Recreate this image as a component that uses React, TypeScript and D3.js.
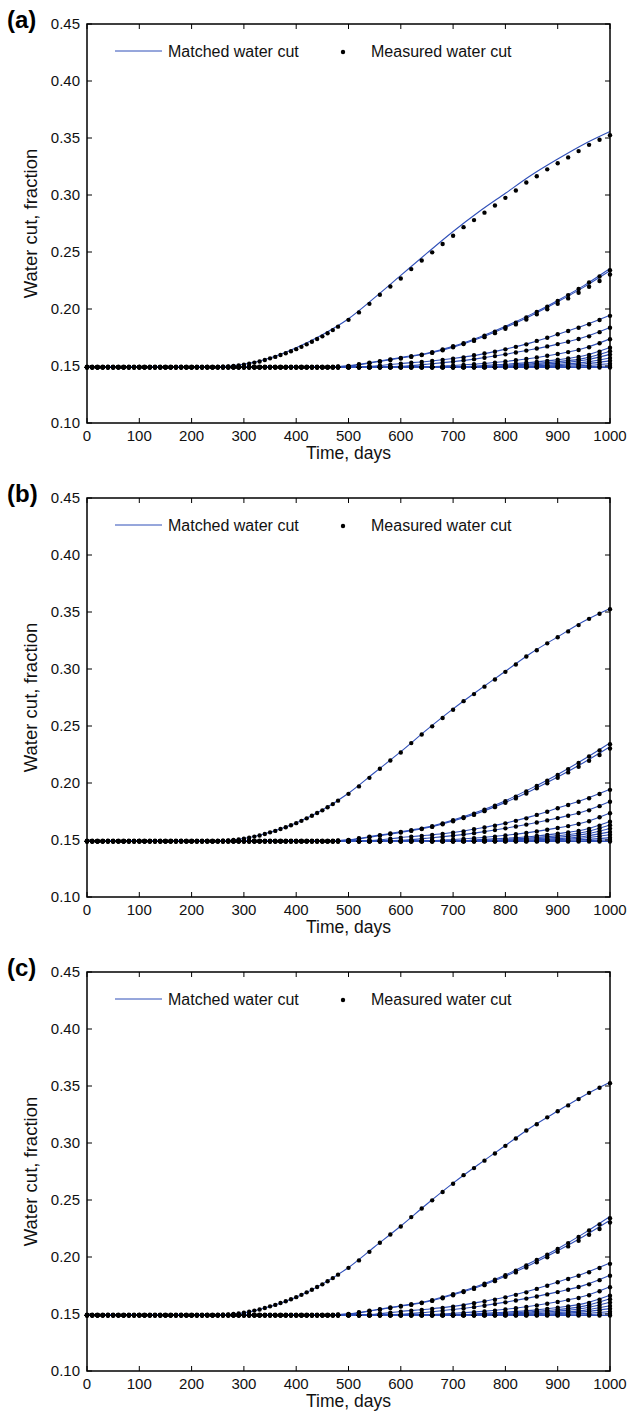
import * as d3 from 'd3';

// measurement times (days): every 10 days up to 480, then every 20 days
const measuredDays = [
  0, 10, 20, 30, 40, 50, 60, 70, 80, 90,
  100, 110, 120, 130, 140, 150, 160, 170, 180, 190,
  200, 210, 220, 230, 240, 250, 260, 270, 280, 290,
  300, 310, 320, 330, 340, 350, 360, 370, 380, 390,
  400, 410, 420, 430, 440, 450, 460, 470, 480,
  500, 520, 540, 560, 580, 600, 620, 640, 660, 680,
  700, 720, 740, 760, 780, 800, 820, 840, 860, 880,
  900, 920, 940, 960, 980, 1000,
];

// measured water cut for each well (same observed data in all three panels)
const measuredWell1 = [
  .149, .149, .1488, .149, .1491, .149, .149, .1489, .149, .149,
  .1491, .149, .149, .149, .1489, .149, .149, .149, .1491, .149,
  .149, .149, .149, .1492, .149, .1491, .1493, .1495, .150, .1505,
  .1512, .152, .153, .154, .1553, .1567, .158, .1596, .1612, .163,
  .1648, .1668, .169, .1713, .1737, .176, .1787, .1815, .1845,
  .1905, .197, .2045, .2125, .2198, .2268, .235, .2425, .2497, .257,
  .2643, .2718, .278, .2845, .2908, .2975, .304, .311, .3165, .3225,
  .3278, .333, .3385, .344, .3485, .3525,
];
const measuredWell2 = [
  .149, .149, .149, .149, .149, .149, .149, .149, .149, .149,
  .149, .149, .149, .149, .149, .149, .149, .149, .149, .149,
  .149, .149, .149, .149, .149, .149, .149, .149, .149, .149,
  .149, .149, .149, .149, .149, .149, .149, .149, .149, .149,
  .149, .149, .149, .149, .149, .149, .149, .149, .1495,
  .150, .1515, .1528, .1542, .1557, .157, .1585, .160, .162, .1645,
  .1673, .170, .173, .1765, .180, .184, .188, .1925, .1975, .202,
  .207, .2122, .2175, .2232, .2285, .234,
];
const measuredWell3 = [
  .149, .149, .149, .149, .149, .149, .149, .149, .149, .149,
  .149, .149, .149, .149, .149, .149, .149, .149, .149, .149,
  .149, .149, .149, .149, .149, .149, .149, .149, .149, .149,
  .149, .149, .149, .149, .149, .149, .149, .149, .149, .149,
  .149, .149, .149, .149, .149, .149, .149, .149, .149,
  .1498, .1512, .1525, .1538, .1553, .1566, .158, .1596, .1615, .1638,
  .1665, .1692, .172, .1753, .1788, .1826, .1865, .1907, .1953, .1998,
  .2045, .2093, .2142, .2195, .2245, .2302,
];
const measuredWell4 = [
  .149, .149, .149, .149, .149, .149, .149, .149, .149, .149,
  .149, .149, .149, .149, .149, .149, .149, .149, .149, .149,
  .149, .149, .149, .149, .149, .149, .149, .149, .149, .149,
  .149, .149, .149, .149, .149, .149, .149, .149, .149, .149,
  .149, .149, .149, .149, .149, .149, .149, .149, .149,
  .149, .149, .149, .1505, .1512, .152, .1528, .1535, .1544, .1553,
  .1564, .1575, .1594, .161, .1625, .1646, .1668, .169, .172, .1748,
  .1778, .1807, .1836, .1866, .1903, .194,
];
const measuredWell5 = [
  .149, .149, .149, .149, .149, .149, .149, .149, .149, .149,
  .149, .149, .149, .149, .149, .149, .149, .149, .149, .149,
  .149, .149, .149, .149, .149, .149, .149, .149, .149, .149,
  .149, .149, .149, .149, .149, .149, .149, .149, .149, .149,
  .149, .149, .149, .149, .149, .149, .149, .149, .149,
  .149, .149, .149, .149, .149, .1497, .1503, .151, .1518, .1527,
  .1537, .1548, .156, .1573, .1587, .1602, .1618, .1635, .1653, .1672,
  .1692, .1713, .1737, .176, .1797, .1836,
];
const measuredWell6 = [
  .149, .149, .149, .149, .149, .149, .149, .149, .149, .149,
  .149, .149, .149, .149, .149, .149, .149, .149, .149, .149,
  .149, .149, .149, .149, .149, .149, .149, .149, .149, .149,
  .149, .149, .149, .149, .149, .149, .149, .149, .149, .149,
  .149, .149, .149, .149, .149, .149, .149, .149, .149,
  .149, .149, .149, .149, .149, .149, .149, .149, .1495, .150,
  .1505, .151, .1516, .1523, .153, .154, .155, .1562, .1575, .159,
  .1605, .1622, .164, .1665, .170, .1735,
];
const measuredWell7 = [
  .149, .149, .149, .149, .149, .149, .149, .149, .149, .149,
  .149, .149, .149, .149, .149, .149, .149, .149, .149, .149,
  .149, .149, .149, .149, .149, .149, .149, .149, .149, .149,
  .149, .149, .149, .149, .149, .149, .149, .149, .149, .149,
  .149, .149, .149, .149, .149, .149, .149, .149, .149,
  .149, .149, .149, .149, .149, .149, .149, .149, .149, .149,
  .149, .1495, .150, .1505, .151, .1515, .152, .1528, .1535, .1545,
  .1555, .1567, .158, .1598, .1625, .166,
];
const measuredWell8 = [
  .149, .149, .149, .149, .149, .149, .149, .149, .149, .149,
  .149, .149, .149, .149, .149, .149, .149, .149, .149, .149,
  .149, .149, .149, .149, .149, .149, .149, .149, .149, .149,
  .149, .149, .149, .149, .149, .149, .149, .149, .149, .149,
  .149, .149, .149, .149, .149, .149, .149, .149, .149,
  .149, .149, .149, .149, .149, .149, .149, .149, .149, .149,
  .149, .149, .1493, .1497, .150, .1505, .151, .1516, .1523, .153,
  .1538, .1548, .156, .1576, .160, .163,
];
const measuredWell9 = [
  .149, .149, .149, .149, .149, .149, .149, .149, .149, .149,
  .149, .149, .149, .149, .149, .149, .149, .149, .149, .149,
  .149, .149, .149, .149, .149, .149, .149, .149, .149, .149,
  .149, .149, .149, .149, .149, .149, .149, .149, .149, .149,
  .149, .149, .149, .149, .149, .149, .149, .149, .149,
  .149, .149, .149, .149, .149, .149, .149, .149, .149, .149,
  .149, .149, .149, .1492, .1495, .1498, .1502, .1507, .1512, .1518,
  .1525, .1533, .1543, .1556, .1575, .160,
];
const measuredWell10 = [
  .149, .149, .149, .149, .149, .149, .149, .149, .149, .149,
  .149, .149, .149, .149, .149, .149, .149, .149, .149, .149,
  .149, .149, .149, .149, .149, .149, .149, .149, .149, .149,
  .149, .149, .149, .149, .149, .149, .149, .149, .149, .149,
  .149, .149, .149, .149, .149, .149, .149, .149, .149,
  .149, .149, .149, .149, .149, .149, .149, .149, .149, .149,
  .149, .149, .149, .149, .149, .1492, .1495, .1498, .1502, .1507,
  .1512, .1518, .1526, .1537, .1552, .157,
];
const measuredWell11 = [
  .149, .149, .149, .149, .149, .149, .149, .149, .149, .149,
  .149, .149, .149, .149, .149, .149, .149, .149, .149, .149,
  .149, .149, .149, .149, .149, .149, .149, .149, .149, .149,
  .149, .149, .149, .149, .149, .149, .149, .149, .149, .149,
  .149, .149, .149, .149, .149, .149, .149, .149, .149,
  .149, .149, .149, .149, .149, .149, .149, .149, .149, .149,
  .149, .149, .149, .149, .149, .149, .1491, .1493, .1496, .1499,
  .1503, .1508, .1514, .1522, .1532, .1545,
];
const measuredWell12 = [
  .149, .149, .149, .149, .149, .149, .149, .149, .149, .149,
  .149, .149, .149, .149, .149, .149, .149, .149, .149, .149,
  .149, .149, .149, .149, .149, .149, .149, .149, .149, .149,
  .149, .149, .149, .149, .149, .149, .149, .149, .149, .149,
  .149, .149, .149, .149, .149, .149, .149, .149, .149,
  .149, .149, .149, .149, .149, .149, .149, .149, .149, .149,
  .149, .149, .149, .149, .149, .149, .149, .149, .1491, .1493,
  .1495, .1498, .1502, .1506, .1512, .152,
];
const measuredWell13 = [
  .1486, .1486, .1486, .1486, .1486, .1486, .1486, .1486, .1486, .1486,
  .1486, .1486, .1486, .1486, .1486, .1486, .1486, .1486, .1486, .1486,
  .1486, .1486, .1486, .1486, .1486, .1486, .1486, .1486, .1486, .1486,
  .1486, .1486, .1486, .1486, .1486, .1486, .1486, .1486, .1486, .1486,
  .1486, .1486, .1486, .1486, .1486, .1486, .1486, .1486, .1486,
  .149, .149, .149, .149, .149, .149, .149, .149, .149, .149,
  .149, .149, .149, .149, .149, .149, .149, .149, .149, .149,
  .149, .1491, .1493, .1495, .1497, .150,
];
const measuredWell14 = [
  .1494, .1494, .1494, .1494, .1494, .1494, .1494, .1494, .1494, .1494,
  .1494, .1494, .1494, .1494, .1494, .1494, .1494, .1494, .1494, .1494,
  .1494, .1494, .1494, .1494, .1494, .1494, .1494, .1494, .1494, .1494,
  .1494, .1494, .1494, .1494, .1494, .1494, .1494, .1494, .1494, .1494,
  .1494, .1494, .1494, .1494, .1494, .1494, .1494, .1494, .1494,
  .1486, .1486, .1486, .1486, .1486, .1486, .1486, .1486, .1486, .1486,
  .1486, .1486, .1486, .1486, .1486, .1486, .1486, .1486, .1486, .1486,
  .1486, .1486, .1486, .1486, .1486, .1486,
];

const measuredWells = [
  measuredWell1, measuredWell2, measuredWell3, measuredWell4, measuredWell5,
  measuredWell6, measuredWell7, measuredWell8, measuredWell9, measuredWell10,
  measuredWell11, measuredWell12, measuredWell13, measuredWell14,
];

// matched (simulated) water cut, every 50 days
const matchedDays = [
  0, 50, 100, 150, 200, 250, 300, 350, 400, 450,
  500, 550, 600, 650, 700, 750, 800, 850, 900, 950, 1000,
];

// panel (a)
const matchedA = [
  [.149, .149, .149, .149, .149, .1492, .1515, .157, .166, .1775, .1915, .210, .2295, .249, .268, .2855, .3015, .3175, .3315, .3445, .3556],
  [.149, .149, .149, .149, .149, .149, .149, .149, .149, .149, .1502, .1537, .1575, .1612, .1672, .1752, .1848, .1955, .2075, .2205, .2355],
  [.149, .149, .149, .149, .149, .149, .149, .149, .149, .149, .150, .1533, .157, .1607, .1665, .1743, .1838, .1944, .2063, .2192, .2335],
  [.149, .149, .149, .149, .149, .149, .149, .149, .149, .149, .149, .150, .1522, .154, .1566, .160, .1648, .1705, .1778, .1855, .1945],
  [.149, .149, .149, .149, .149, .149, .149, .149, .149, .149, .149, .149, .1497, .1515, .1538, .1567, .1603, .1644, .1692, .1752, .1838],
  [.149, .149, .149, .149, .149, .149, .149, .149, .149, .149, .149, .149, .149, .1493, .1505, .152, .154, .1568, .1605, .1655, .1738],
  [.149, .149, .149, .149, .149, .149, .149, .149, .149, .149, .149, .149, .149, .149, .149, .1502, .1515, .1532, .1556, .159, .1662],
  [.149, .149, .149, .149, .149, .149, .149, .149, .149, .149, .149, .149, .149, .149, .149, .1495, .1505, .1519, .1538, .1567, .163],
  [.149, .149, .149, .149, .149, .149, .149, .149, .149, .149, .149, .149, .149, .149, .149, .149, .1498, .1509, .1525, .155, .1602],
  [.149, .149, .149, .149, .149, .149, .149, .149, .149, .149, .149, .149, .149, .149, .149, .149, .1492, .150, .1512, .1532, .157],
  [.149, .149, .149, .149, .149, .149, .149, .149, .149, .149, .149, .149, .149, .149, .149, .149, .149, .1495, .1503, .1518, .1545],
  [.149, .149, .149, .149, .149, .149, .149, .149, .149, .149, .149, .149, .149, .149, .149, .149, .149, .1491, .1495, .1504, .152],
  [.1487, .1487, .1487, .1487, .1487, .1487, .1487, .1487, .1487, .1487, .1487, .1487, .1487, .1487, .1487, .1487, .1487, .1487, .149, .1494, .150],
  [.1493, .1493, .1493, .1493, .1493, .1493, .1493, .1493, .1493, .1493, .1488, .1488, .1488, .1488, .1488, .1488, .1488, .1488, .1488, .1488, .1488],
];

// panel (b)
const matchedB = [
  [.149, .149, .149, .149, .149, .1491, .1513, .1568, .165, .1763, .191, .2092, .2275, .2468, .265, .2818, .298, .3142, .3282, .3418, .353],
  [.149, .149, .149, .149, .149, .149, .149, .149, .149, .149, .1501, .1536, .1572, .1613, .1676, .1752, .1845, .1955, .2075, .2208, .2352],
  [.149, .149, .149, .149, .149, .149, .149, .149, .149, .149, .1499, .1532, .1567, .1607, .1668, .174, .183, .1935, .2052, .218, .2318],
  [.149, .149, .149, .149, .149, .149, .149, .149, .149, .149, .149, .1498, .1521, .1541, .1566, .1603, .1648, .1707, .178, .1855, .1945],
  [.149, .149, .149, .149, .149, .149, .149, .149, .149, .149, .149, .149, .1497, .1515, .1538, .1567, .1603, .1645, .1693, .175, .1838],
  [.149, .149, .149, .149, .149, .149, .149, .149, .149, .149, .149, .149, .149, .1493, .1505, .152, .1541, .1569, .1606, .1653, .1737],
  [.149, .149, .149, .149, .149, .149, .149, .149, .149, .149, .149, .149, .149, .149, .149, .1503, .1515, .1531, .1556, .159, .1662],
  [.149, .149, .149, .149, .149, .149, .149, .149, .149, .149, .149, .149, .149, .149, .149, .1495, .1505, .1519, .1538, .1568, .1632],
  [.149, .149, .149, .149, .149, .149, .149, .149, .149, .149, .149, .149, .149, .149, .149, .149, .1498, .1509, .1525, .1549, .1601],
  [.149, .149, .149, .149, .149, .149, .149, .149, .149, .149, .149, .149, .149, .149, .149, .149, .1492, .150, .1512, .1531, .1571],
  [.149, .149, .149, .149, .149, .149, .149, .149, .149, .149, .149, .149, .149, .149, .149, .149, .149, .1494, .1503, .1518, .1546],
  [.149, .149, .149, .149, .149, .149, .149, .149, .149, .149, .149, .149, .149, .149, .149, .149, .149, .1491, .1495, .1504, .1521],
  [.1487, .1487, .1487, .1487, .1487, .1487, .1487, .1487, .1487, .1487, .1487, .1487, .1487, .1487, .1487, .1487, .1487, .1487, .149, .1494, .1501],
  [.1493, .1493, .1493, .1493, .1493, .1493, .1493, .1493, .1493, .1493, .1487, .1487, .1487, .1487, .1487, .1487, .1487, .1487, .1487, .1487, .1487],
];

// panel (c)
const matchedC = [
  [.149, .149, .149, .149, .149, .1491, .151, .1565, .1647, .1762, .1908, .209, .2272, .2465, .2648, .2816, .2978, .314, .328, .3415, .3532],
  [.149, .149, .149, .149, .149, .149, .149, .149, .149, .149, .1501, .1535, .1571, .1612, .1675, .175, .1843, .1953, .2073, .2207, .2355],
  [.149, .149, .149, .149, .149, .149, .149, .149, .149, .149, .1499, .1533, .1568, .1608, .1669, .1742, .1832, .1937, .2054, .2182, .2322],
  [.149, .149, .149, .149, .149, .149, .149, .149, .149, .149, .149, .1498, .1522, .1542, .1567, .1604, .1649, .1708, .1781, .1856, .1947],
  [.149, .149, .149, .149, .149, .149, .149, .149, .149, .149, .149, .149, .1497, .1516, .1539, .1568, .1604, .1646, .1694, .1751, .184],
  [.149, .149, .149, .149, .149, .149, .149, .149, .149, .149, .149, .149, .149, .1494, .1506, .1521, .1542, .157, .1607, .1655, .1739],
  [.149, .149, .149, .149, .149, .149, .149, .149, .149, .149, .149, .149, .149, .149, .149, .1503, .1516, .1532, .1557, .1591, .1664],
  [.149, .149, .149, .149, .149, .149, .149, .149, .149, .149, .149, .149, .149, .149, .149, .1495, .1506, .152, .1539, .1569, .1633],
  [.149, .149, .149, .149, .149, .149, .149, .149, .149, .149, .149, .149, .149, .149, .149, .149, .1498, .151, .1526, .155, .1603],
  [.149, .149, .149, .149, .149, .149, .149, .149, .149, .149, .149, .149, .149, .149, .149, .149, .1492, .1501, .1513, .1532, .1572],
  [.149, .149, .149, .149, .149, .149, .149, .149, .149, .149, .149, .149, .149, .149, .149, .149, .149, .1494, .1504, .1519, .1547],
  [.149, .149, .149, .149, .149, .149, .149, .149, .149, .149, .149, .149, .149, .149, .149, .149, .149, .1491, .1496, .1505, .1522],
  [.1487, .1487, .1487, .1487, .1487, .1487, .1487, .1487, .1487, .1487, .1487, .1487, .1487, .1487, .1487, .1487, .1487, .1487, .149, .1494, .1502],
  [.1493, .1493, .1493, .1493, .1493, .1493, .1493, .1493, .1493, .1493, .1487, .1487, .1487, .1487, .1487, .1487, .1487, .1487, .1487, .1487, .1487],
];

const panelLabels = ['(a)', '(b)', '(c)'];
const panelMatched = [matchedA, matchedB, matchedC];
const xTicks = [0, 100, 200, 300, 400, 500, 600, 700, 800, 900, 1000];
const yTicks = [0.1, 0.15, 0.2, 0.25, 0.3, 0.35, 0.4, 0.45];

// layout
const width = 627;
const height = 1412;
const plotLeft = 87;
const plotRight = 610;
const plotHeight = 399;
const panelTops = [24, 498, 972];
const lineColor = '#2f4fb8';
const font = "'Liberation Sans', Arial, Helvetica, sans-serif";

function Panel({ label, top, matched }) {
  const x = d3.scaleLinear().domain([0, 1000]).range([plotLeft, plotRight]);
  const y = d3.scaleLinear().domain([0.1, 0.45]).range([plotHeight, 0]);
  const line = d3
    .line<number>()
    .x((d, i) => x(matchedDays[i]))
    .y((d) => y(d))
    .curve(d3.curveMonotoneX);
  const fmt = d3.format('.2f');
  const tick = 5;

  return (
    <g transform={`translate(0, ${top})`}>
      {/* matched lines */}
      {matched.map((series, k) => (
        <path key={'m' + k} d={line(series) || ''} fill="none" stroke={lineColor} strokeWidth={1.1} />
      ))}

      {/* measured dots */}
      {measuredWells.map((series, k) =>
        measuredDays.map((day, i) =>
          series[i] === undefined ? null : (
            <circle key={k + '-' + i} cx={x(day)} cy={y(series[i])} r={2.2} fill="#000" />
          ),
        ),
      )}

      {/* axes box and inward ticks */}
      <rect x={plotLeft} y={0} width={plotRight - plotLeft} height={plotHeight} fill="none" stroke="#000" strokeWidth={1.5} />
      {xTicks.map((t) => (
        <g key={'xt' + t}>
          <line x1={x(t)} x2={x(t)} y1={plotHeight} y2={plotHeight - tick} stroke="#000" />
          <line x1={x(t)} x2={x(t)} y1={0} y2={tick} stroke="#000" />
          <text x={x(t)} y={plotHeight + 17.5} textAnchor="middle" fontSize={15} fontFamily={font} fill="#111">
            {t}
          </text>
        </g>
      ))}
      {yTicks.map((t) => (
        <g key={'yt' + t}>
          <line x1={plotLeft} x2={plotLeft + tick} y1={y(t)} y2={y(t)} stroke="#000" />
          <line x1={plotRight} x2={plotRight - tick} y1={y(t)} y2={y(t)} stroke="#000" />
          <text x={plotLeft - 7} y={y(t)} dy="0.35em" textAnchor="end" fontSize={15} fontFamily={font} fill="#111">
            {fmt(t)}
          </text>
        </g>
      ))}

      {/* axis titles */}
      <text x={(plotLeft + plotRight) / 2} y={plotHeight + 35.5} textAnchor="middle" fontSize={17.5} fontFamily={font} fill="#111">
        Time, days
      </text>
      <text
        transform={`translate(37, ${plotHeight / 2}) rotate(-90)`}
        textAnchor="middle"
        fontSize={18.5}
        fontFamily={font}
        fill="#111"
      >
        Water cut, fraction
      </text>

      {/* panel label */}
      <text x={7} y={4} fontSize={24} fontWeight="bold" fontFamily={font} fill="#000">
        {label}
      </text>

      {/* legend */}
      <line x1={115} x2={162} y1={27} y2={27} stroke={lineColor} strokeWidth={1} />
      <text x={168} y={27} dy="0.35em" fontSize={16} fontFamily={font} fill="#111">
        Matched water cut
      </text>
      <circle cx={343} cy={28} r={2.2} fill="#000" />
      <text x={371} y={27} dy="0.35em" fontSize={16} fontFamily={font} fill="#111">
        Measured water cut
      </text>
    </g>
  );
}

export default function App() {
  return (
    <svg
      width={width}
      height={height}
      style={{ position: 'absolute', left: 0, top: 0, background: '#fff' }}
    >
      <rect width={width} height={height} fill="#fff" />
      {panelLabels.map((label, i) => (
        <Panel key={label} label={label} top={panelTops[i]} matched={panelMatched[i]} />
      ))}
    </svg>
  );
}
